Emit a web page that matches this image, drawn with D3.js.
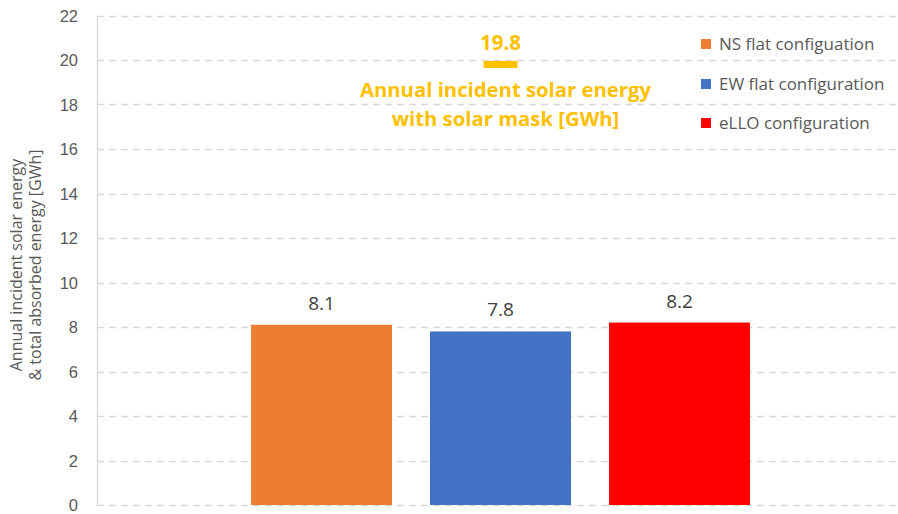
<!DOCTYPE html>
<html>
<head>
<meta charset="utf-8">
<script src="https://cdn.jsdelivr.net/npm/d3@7"></script>
<style>
  html, body { margin: 0; padding: 0; background: #fff; }
  svg { display: block; font-family: "Open Sans", "Noto Sans", sans-serif; }
</style>
</head>
<body>
<svg id="chart" width="898" height="514"></svg>
<script>
const categories = ["NS flat configuation", "EW flat configuration", "eLLO configuration"];
const values = [8.1, 7.8, 8.2];
const colors = ["#ED7D31", "#4472C4", "#FF0000"];
const yTicks = [0, 2, 4, 6, 8, 10, 12, 14, 16, 18, 20, 22];
const maskCategory = "EW flat configuration";
const maskValue = 19.8;
const maskLabel = ["Annual incident solar energy", "with solar mask [GWh]"];
const yTitle = ["Annual incident solar energy", "& total absorbed energy [GWh]"];

const svg = d3.select("#chart");
const plotLeft = 97, plotRight = 896;

const y = d3.scaleLinear().domain([0, 22]).range([505, 15.5]);
const x = d3.scaleBand().domain(categories).range([232, 769]).paddingInner(0.212).paddingOuter(0.106);

// gridlines
svg.append("g").selectAll("line").data(yTicks).join("line")
  .attr("x1", plotLeft).attr("x2", plotRight)
  .attr("y1", d => Math.round(y(d)) + 0.5).attr("y2", d => Math.round(y(d)) + 0.5)
  .attr("stroke", "#d9d9d9").attr("stroke-width", 1.5)
  .attr("stroke-dasharray", "7,5");

// y axis
const yAxis = d3.axisLeft(y).tickValues(yTicks).tickSize(0).tickPadding(0);
const gY = svg.append("g").attr("transform", `translate(${plotLeft},0)`).call(yAxis);
gY.select(".domain").attr("stroke", "#d9d9d9").attr("stroke-width", 1.5);
gY.selectAll(".tick text").attr("x", -19).attr("dy", "0.36em")
  .attr("fill", "#595959").attr("font-size", 16.5);

// y title
const yt = svg.append("text").attr("transform", "translate(22,265) rotate(-90)")
  .attr("text-anchor", "middle").attr("fill", "#595959").attr("font-size", 16);
yt.selectAll("tspan").data(yTitle).join("tspan")
  .attr("x", 0).attr("dy", (d, i) => i === 0 ? 0 : 19).text(d => d);

// bars
svg.append("g").selectAll("rect").data(categories).join("rect")
  .attr("x", d => x(d)).attr("width", x.bandwidth())
  .attr("y", (d, i) => y(values[i])).attr("height", (d, i) => y(0) - y(values[i]))
  .attr("fill", (d, i) => colors[i]);

// data labels
svg.append("g").selectAll("text").data(categories).join("text")
  .attr("x", d => x(d) + x.bandwidth() / 2)
  .attr("y", (d, i) => y(values[i]) - 15)
  .attr("text-anchor", "middle").attr("fill", "#404040").attr("font-size", 19)
  .text((d, i) => values[i].toFixed(1));

// mask marker
const mx = x(maskCategory) + x.bandwidth() / 2;
svg.append("rect").attr("x", mx - 17).attr("width", 34)
  .attr("y", y(maskValue) - 3.5).attr("height", 7).attr("fill", "#FFC000");
svg.append("text").attr("x", mx).attr("y", y(maskValue) - 14)
  .attr("text-anchor", "middle").attr("fill", "#FFC000").attr("font-size", 20.5)
  .attr("font-weight", "bold").text(maskValue.toFixed(1));
const ml = svg.append("text").attr("x", mx + 5).attr("y", 97)
  .attr("text-anchor", "middle").attr("fill", "#FFC000").attr("font-size", 20.3)
  .attr("font-weight", "bold");
ml.selectAll("tspan").data(maskLabel).join("tspan")
  .attr("x", mx + 5).attr("dy", (d, i) => i === 0 ? 0 : 29).text(d => d);

// legend
const lg = svg.append("g").attr("transform", "translate(701,0)");
const ly = [44, 84, 123];
lg.selectAll("rect").data(categories).join("rect")
  .attr("x", 0).attr("y", (d, i) => ly[i] - 5).attr("width", 10).attr("height", 10)
  .attr("fill", (d, i) => colors[i]);
lg.selectAll("text").data(categories).join("text")
  .attr("x", 18).attr("y", (d, i) => ly[i]).attr("dy", "0.36em")
  .attr("fill", "#595959").attr("font-size", 17).text(d => d);
</script>
</body>
</html>
